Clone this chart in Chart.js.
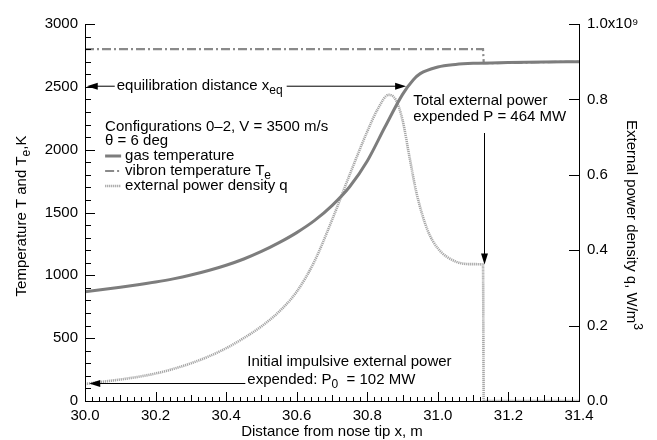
<!DOCTYPE html>
<html>
<head>
<meta charset="utf-8">
<script src="https://cdn.jsdelivr.net/npm/chart.js@4"></script>
<style>
  html, body { margin: 0; padding: 0; background: #fff; }
  #wrap { width: 657px; height: 440px; position: relative; }
</style>
</head>
<body>
<div id="wrap"><canvas id="chart"></canvas></div>
<script>
// Distance from nose tip, m
const gasX = [30.0, 30.05, 30.1, 30.15, 30.2, 30.25, 30.3, 30.35, 30.4, 30.45, 30.5, 30.55, 30.6, 30.65, 30.7, 30.75, 30.8, 30.85, 30.9, 30.93, 30.95, 31.0, 31.05, 31.1, 31.2, 31.3, 31.4];
// gas temperature T, K
const gasT = [870, 887, 905, 925, 947, 972, 1002, 1038, 1080, 1130, 1190, 1260, 1340, 1435, 1555, 1705, 1910, 2180, 2440, 2555, 2605, 2658, 2678, 2687, 2693, 2697, 2700];

const vibX = [30.0, 31.128, 31.13, 31.2, 31.3, 31.4];
// vibron temperature Te, K
const vibT = [2800, 2800, 2688, 2690, 2697, 2700];

const qX = [30.0, 30.05, 30.1, 30.15, 30.2, 30.25, 30.3, 30.35, 30.4, 30.45, 30.5, 30.55, 30.6, 30.65, 30.7, 30.75, 30.8, 30.83, 30.86, 30.88, 30.9, 30.92, 30.94, 30.97, 31.0, 31.05, 31.1, 31.128, 31.13, 31.2, 31.3, 31.4];
// external power density q, 1e9 W/m3
const qVal = [0.045, 0.051, 0.057, 0.064, 0.073, 0.085, 0.100, 0.118, 0.140, 0.167, 0.198, 0.237, 0.290, 0.370, 0.480, 0.600, 0.715, 0.775, 0.812, 0.800, 0.745, 0.645, 0.550, 0.455, 0.405, 0.370, 0.363, 0.362, 0, 0, 0, 0];

const xTicks = [30.0, 30.2, 30.4, 30.6, 30.8, 31.0, 31.2, 31.4];
const tTicks = [0, 500, 1000, 1500, 2000, 2500, 3000];
const qTicks = [0, 0.2, 0.4, 0.6, 0.8, 1.0];

const FONT = '"Liberation Sans", Arial, sans-serif';

function pts(xs, ys) {
    return xs.map((x, i) => ({ x: x, y: ys[i] }));
}

// draw text pieces with sub/superscripts
function richText(ctx, parts, x, y, size) {
    let cx = x;
    parts.forEach(p => {
        const [txt, kind] = p;
        let fs = size, dy = 0;
        if (kind === 'sub') { fs = size * 0.8; dy = size * 0.3; }
        if (kind === 'sup') { fs = size * 0.8; dy = -size * 0.4; }
        ctx.font = fs + 'px ' + FONT;
        ctx.fillText(txt, cx, y + dy);
        cx += ctx.measureText(txt).width;
    });
    return cx - x;
}

function richWidth(ctx, parts, size) {
    let w = 0;
    parts.forEach(p => {
        const fs = p[1] ? size * 0.8 : size;
        ctx.font = fs + 'px ' + FONT;
        w += ctx.measureText(p[0]).width;
    });
    return w;
}

function arrow(ctx, x1, y1, x2, y2) {
    // line from (x1,y1) to tip (x2,y2)
    const a = Math.atan2(y2 - y1, x2 - x1);
    ctx.beginPath();
    ctx.moveTo(x1, y1);
    ctx.lineTo(x2 - 9 * Math.cos(a), y2 - 9 * Math.sin(a));
    ctx.stroke();
    ctx.beginPath();
    ctx.moveTo(x2, y2);
    ctx.lineTo(x2 - 11 * Math.cos(a) + 3.5 * Math.sin(a), y2 - 11 * Math.sin(a) - 3.5 * Math.cos(a));
    ctx.lineTo(x2 - 11 * Math.cos(a) - 3.5 * Math.sin(a), y2 - 11 * Math.sin(a) + 3.5 * Math.cos(a));
    ctx.closePath();
    ctx.fill();
}

const axesAndNotes = {
    id: 'axesAndNotes',
    afterDraw(chart) {
        const ctx = chart.ctx;
        const xs = chart.scales.x, yl = chart.scales.y, yr = chart.scales.y1;
        const L = Math.round(chart.chartArea.left), R = Math.round(chart.chartArea.right);
        const T = Math.round(chart.chartArea.top), B = Math.round(chart.chartArea.bottom);
        ctx.save();
        ctx.setLineDash([]);
        ctx.strokeStyle = '#000';
        ctx.fillStyle = '#000';
        ctx.lineWidth = 1;

        // axis lines
        ctx.fillRect(L, T, 1, B - T + 1);
        ctx.fillRect(L, B, R - L + 1, 1);
        ctx.fillRect(R, T, 1, B - T + 1);

        // inward ticks
        for (let v = 0; v <= 3000; v += 100) {
            const p = Math.round(yl.getPixelForValue(v));
            const len = v % 500 === 0 ? 10 : 6;
            ctx.fillRect(L, p, len, 1);
        }
        qTicks.forEach(v => {
            const p = Math.round(yr.getPixelForValue(v));
            ctx.fillRect(R - 10, p, 10, 1);
        });
        for (let i = 0; i <= 70; i++) {
            const p = Math.round(xs.getPixelForValue(30 + i * 0.02));
            const len = i % 10 === 0 ? 9 : (i % 5 === 0 ? 6 : 4);
            ctx.fillRect(p, B - len, 1, len);
        }

        const fs = 15;
        ctx.textBaseline = 'middle';
        ctx.textAlign = 'left';

        // equilibration distance arrow
        const yEq = yl.getPixelForValue(2505);
        const eqParts = [['equilibration distance x'], ['eq', 'sub']];
        const tx = xs.getPixelForValue(30.09);
        const tw = richWidth(ctx, eqParts, fs);
        richText(ctx, eqParts, tx, yEq, fs);
        arrow(ctx, tx - 2, yEq, xs.getPixelForValue(30.005), yEq);
        arrow(ctx, tx + tw + 4, yEq, xs.getPixelForValue(30.91), yEq);

        // configuration block and legend
        const bx = xs.getPixelForValue(30.057);
        richText(ctx, [['Configurations 0\u20132, V = 3500 m/s']], bx, 127, fs);
        richText(ctx, [['\u03b8 = 6 deg']], bx, 141, fs);
        const legendRows = [
            { y: 156, label: [['gas temperature']], ds: 0 },
            { y: 171, label: [['vibron temperature T'], ['e', 'sub']], ds: 1 },
            { y: 186, label: [['external power density q']], ds: 2 }
        ];
        legendRows.forEach(r => {
            const d = chart.data.datasets[r.ds];
            ctx.save();
            ctx.strokeStyle = d.borderColor;
            ctx.lineWidth = d.borderWidth;
            ctx.setLineDash(d.borderDash || []);
            ctx.beginPath();
            ctx.moveTo(bx, r.y); ctx.lineTo(bx + 16, r.y);
            ctx.stroke();
            ctx.restore();
            richText(ctx, r.label, bx + 20, r.y, fs);
        });

        // total external power
        const px = xs.getPixelForValue(30.93);
        richText(ctx, [['Total external power']], px, 101, fs);
        richText(ctx, [['expended P = 464 MW']], px, 117, fs);
        const ax = Math.round(xs.getPixelForValue(31.13)) + 0.5;
        arrow(ctx, ax, 133, ax, yr.getPixelForValue(0.362));

        // initial impulsive power
        const ix = xs.getPixelForValue(30.46);
        richText(ctx, [['Initial impulsive external power']], ix, 362, fs);
        richText(ctx, [['expended: P'], ['0', 'sub'], ['  = 102 MW']], ix, 380, fs);
        const yP = Math.round(yr.getPixelForValue(0.047)) + 0.5;
        arrow(ctx, ix - 2, yP, xs.getPixelForValue(30.012), yP);

        // axis titles
        const lt = [['Temperature T and T'], ['e', 'sub'], [',K']];
        ctx.save();
        ctx.translate(22, 216);
        ctx.rotate(-Math.PI / 2);
        richText(ctx, lt, -richWidth(ctx, lt, fs) / 2, 0, fs);
        ctx.restore();

        const rt = [['External power density q, W/m'], ['3', 'sup']];
        ctx.save();
        ctx.translate(631, 225);
        ctx.rotate(Math.PI / 2);
        richText(ctx, rt, -richWidth(ctx, rt, fs) / 2, 0, fs);
        ctx.restore();

        const bt = [['Distance from nose tip x, m']];
        richText(ctx, bt, (L + R) / 2 - richWidth(ctx, bt, fs) / 2, 432, fs);

        ctx.restore();
    }
};

new Chart(document.getElementById('chart'), {
    type: 'line',
    data: {
        datasets: [
            {
                label: 'gas temperature',
                data: pts(gasX, gasT),
                yAxisID: 'y',
                borderColor: '#7d7d7d',
                borderWidth: 3,
                pointRadius: 0,
                cubicInterpolationMode: 'monotone',
                fill: false
            },
            {
                label: 'vibron temperature Te',
                data: pts(vibX, vibT),
                yAxisID: 'y',
                borderColor: '#8a8a8a',
                borderWidth: 2.2,
                borderDash: [9, 3, 2, 3],
                pointRadius: 0,
                tension: 0,
                fill: false
            },
            {
                label: 'external power density q',
                data: pts(qX, qVal),
                yAxisID: 'y1',
                borderColor: '#a6a6a6',
                borderWidth: 2.6,
                borderDash: [1.2, 0.8],
                pointRadius: 0,
                cubicInterpolationMode: 'monotone',
                fill: false
            }
        ]
    },
    options: {
        responsive: true,
        maintainAspectRatio: false,
        animation: false,
        events: [],
        layout: { padding: { top: 24, left: 0, right: 0, bottom: 0 } },
        plugins: {
            legend: { display: false },
            tooltip: { enabled: false }
        },
        scales: {
            x: {
                type: 'linear',
                min: 30.0,
                max: 31.4,
                afterBuildTicks: s => { s.ticks = xTicks.map(v => ({ value: v })); },
                afterFit: s => { s.height = 39; },
                grid: { display: false, drawTicks: false },
                border: { display: false },
                ticks: {
                    color: '#000',
                    padding: 6,
                    maxRotation: 0,
                    autoSkip: false,
                    font: { size: 15, family: FONT },
                    callback: v => Number(v).toFixed(1)
                }
            },
            y: {
                position: 'left',
                min: 0,
                max: 3000,
                afterBuildTicks: s => { s.ticks = tTicks.map(v => ({ value: v })); },
                afterFit: s => { s.width = 85; },
                grid: { display: false, drawTicks: false },
                border: { display: false },
                ticks: {
                    color: '#000',
                    padding: 7,
                    font: { size: 15, family: FONT },
                    callback: v => String(v)
                }
            },
            y1: {
                position: 'right',
                min: 0,
                max: 1.0,
                afterBuildTicks: s => { s.ticks = qTicks.map(v => ({ value: v })); },
                afterFit: s => { s.width = 78; },
                grid: { display: false, drawTicks: false },
                border: { display: false },
                ticks: {
                    color: '#000',
                    padding: 8,
                    font: { size: 15, family: FONT },
                    callback: v => (v === 1 ? '1.0x10\u2079' : Number(v).toFixed(1))
                }
            }
        }
    },
    plugins: [axesAndNotes]
});
</script>
</body>
</html>
